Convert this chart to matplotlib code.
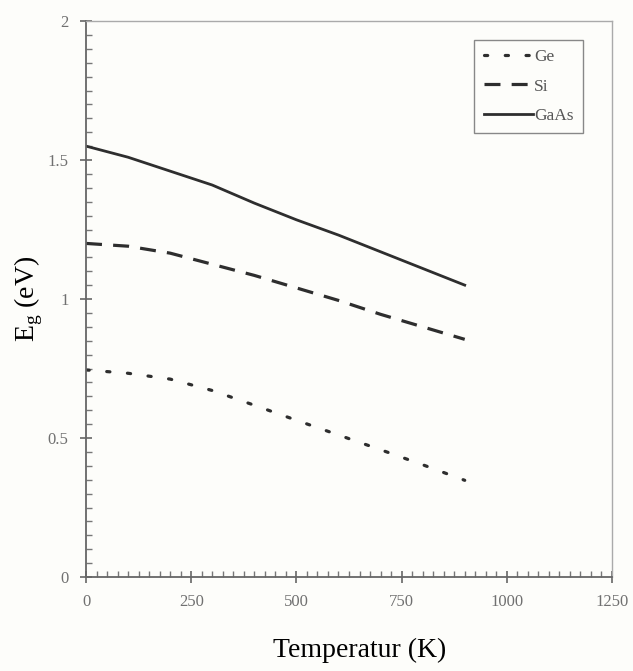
import matplotlib.pyplot as plt
from matplotlib.ticker import MultipleLocator
import numpy as np

# Temperature grid (K) and band gap readings (eV)
temp = [0, 100, 200, 300, 400, 500, 600, 700, 800, 900]
eg_ge = [0.745, 0.733, 0.712, 0.671, 0.618, 0.564, 0.511, 0.458, 0.404, 0.348]
eg_si = [1.20, 1.19, 1.165, 1.125, 1.085, 1.04, 0.995, 0.945, 0.90, 0.855]
eg_gaas = [1.55, 1.51, 1.46, 1.41, 1.345, 1.285, 1.23, 1.17, 1.11, 1.05]

x_ticks = [0, 250, 500, 750, 1000, 1250]
y_ticks = [0, 0.5, 1, 1.5, 2]
y_tick_labels = ["0", "0.5", "1", "1.5", "2"]

plt.rcParams['font.family'] = ['Liberation Serif', 'DejaVu Serif']

fig = plt.figure(figsize=(6.33, 6.71), dpi=100)
fig.patch.set_facecolor('#fdfdfa')
ax = fig.add_axes([0.1359, 0.140, 0.8309, 0.8287])
ax.set_facecolor('#fdfdfa')

line_col = '#2e2e2e'
ax.plot(temp, eg_ge, color=line_col, lw=2.3, linestyle=(0, (1, 5.5)),
        dash_capstyle='round', label='Ge')
ax.plot(temp, eg_si, color=line_col, lw=2.3, linestyle=(0, (5, 3.5)), label='Si')
ax.plot(temp, eg_gaas, color=line_col, lw=2.0, label='GaAs')

ax.set_xlim(0, 1250)
ax.set_ylim(0, 2)
ax.set_xticks(x_ticks)
ax.set_yticks(y_ticks)
ax.set_yticklabels(y_tick_labels)
ax.xaxis.set_minor_locator(MultipleLocator(25))
ax.yaxis.set_minor_locator(MultipleLocator(0.05))

ax.tick_params(which='major', direction='inout', length=9, width=1.2,
               color='#666666', labelcolor='#707070', labelsize=12, pad=8)
ax.tick_params(which='minor', direction='in', length=4, width=1.0, color='#777777')

for s in ['left', 'bottom']:
    ax.spines[s].set_color('#666666')
    ax.spines[s].set_linewidth(1.3)
for s in ['top', 'right']:
    ax.spines[s].set_color('#aaaaaa')
    ax.spines[s].set_linewidth(1.0)

ax.set_xlabel('Temperatur (K)', fontsize=20, labelpad=20)
ax.xaxis.label.set_x(0.52)
ax.set_ylabel(r'E$_\mathregular{g}$ (eV)', fontsize=20)
ax.yaxis.set_label_coords(-0.078, 0.5)

leg = ax.legend(loc='upper right', bbox_to_anchor=(0.962, 0.982), fontsize=12.5,
                handlelength=2.8, handletextpad=0.1, borderpad=0.55,
                labelspacing=0.75, fancybox=False, framealpha=1)
leg.get_frame().set_edgecolor('#888888')
leg.get_frame().set_linewidth(1.0)
leg.get_frame().set_facecolor('#fdfdfa')
for t in leg.get_texts():
    t.set_color('#555555')

fig.savefig('out.png', dpi=100, facecolor=fig.get_facecolor())
